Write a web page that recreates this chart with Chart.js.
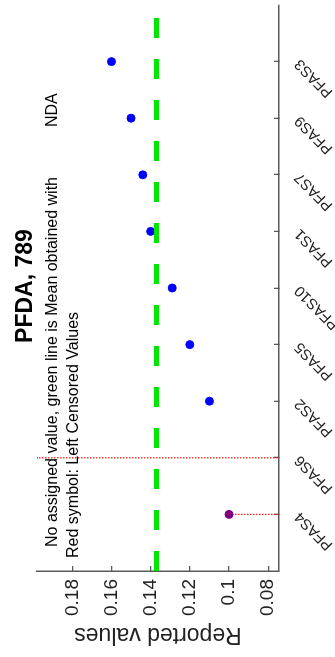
<!DOCTYPE html>
<html>
<head>
<meta charset="utf-8">
<script src="https://cdn.jsdelivr.net/npm/chart.js@4.4.1/dist/chart.umd.min.js"></script>
<style>
  html, body { margin: 0; padding: 0; background: #fff; overflow: hidden; }
  /* the chart is drawn upright, then turned a quarter turn to the left */
  #wrap {
    position: absolute; left: 0; top: 0; width: 657px; height: 335px;
    transform-origin: 0 0;
    transform: translate(0, 657px) rotate(-90deg);
    background: #fff;
  }
</style>
</head>
<body>
<div id="wrap"><canvas id="myChart" width="657" height="335"></canvas></div>
<script>
// data
const categories = ['PFAS4', 'PFAS6', 'PFAS2', 'PFAS5', 'PFAS10', 'PFAS1', 'PFAS7', 'PFAS9', 'PFAS3'];
const reported   = [null, null, 0.110, 0.120, 0.129, 0.140, 0.144, 0.150, 0.160];
const censored   = [0.100, 0.200, null, null, null, null, null, null, null];
const meanValue  = 0.137;
const yTicks      = [0.08, 0.10, 0.12, 0.14, 0.16, 0.18];
const yTickLabels = ['0.08', '0.1', '0.12', '0.14', '0.16', '0.18'];
const yMin = 0.0745, yMax = 0.198;
const xMin = 0, xMax = 10;
const titleText = 'PFDA, 789';
const noteLine1 = 'No assigned value, green line is Mean obtained with';
const noteTag   = 'NDA';
const noteLine2 = 'Red symbol: Left Censored Values';

const FONT = '"Liberation Sans", Arial, Helvetica, sans-serif';
const AXIS = '#5a5a5a';

// dotted drop lines for the left censored values
const dropLines = [];
censored.forEach((v, i) => {
  if (v === null) return;
  dropLines.push({
    type: 'line',
    data: [{ x: i + 1, y: v }, { x: i + 1, y: yMin }],
    borderColor: '#ff2020',
    borderWidth: 1.3,
    borderDash: [1.5, 1.5],
    pointRadius: 0,
    clip: 0
  });
});

// title over the plot box and the two note lines inside it
const notes = {
  id: 'notes',
  afterDatasetsDraw(chart) {
    const { ctx, chartArea } = chart;
    ctx.save();
    ctx.fillStyle = '#000';
    ctx.textBaseline = 'alphabetic';
    ctx.font = 'bold 23px ' + FONT;
    ctx.textAlign = 'center';
    ctx.fillText(titleText, (chartArea.left + chartArea.right) / 2 + 2, 32);
    ctx.font = '16px ' + FONT;
    ctx.textAlign = 'left';
    ctx.fillText(noteLine1, chartArea.left + 24, chartArea.top + 20);
    ctx.fillText(noteTag, chartArea.left + 444, chartArea.top + 20);
    ctx.fillText(noteLine2, chartArea.left + 13, chartArea.top + 41);
    ctx.restore();
  }
};

new Chart(document.getElementById('myChart').getContext('2d'), {
  type: 'scatter',
  data: {
    datasets: [
      {
        type: 'line',
        data: [{ x: xMin, y: meanValue }, { x: xMax, y: meanValue }],
        borderColor: '#00e600',
        borderWidth: 5,
        borderDash: [20, 21],
        pointRadius: 0
      },
      {
        data: reported.map((v, i) => ({ x: i + 1, y: v })).filter(p => p.y !== null),
        backgroundColor: '#0000ff',
        borderColor: '#0000ff',
        pointRadius: 4
      },
      {
        data: censored.map((v, i) => ({ x: i + 1, y: v })).filter(p => p.y !== null),
        backgroundColor: '#800080',
        borderColor: '#800080',
        pointRadius: 4,
        clip: 0
      },
      ...dropLines
    ]
  },
  options: {
    responsive: false,
    animation: false,
    layout: { padding: { top: 37, left: 0, right: 0, bottom: 0 } },
    plugins: {
      legend: { display: false },
      tooltip: { enabled: false },
      title: { display: false }
    },
    scales: {
      x: {
        type: 'linear',
        position: 'bottom',
        min: xMin,
        max: xMax,
        afterBuildTicks: s => { s.ticks = categories.map((c, i) => ({ value: i + 1 })); },
        afterFit: s => { s.height = 56; },
        ticks: {
          autoSkip: false,
          minRotation: 45,
          maxRotation: 45,
          padding: 17,
          color: '#222',
          font: { family: FONT, size: 15 },
          callback: v => categories[Math.round(v) - 1]
        },
        grid: { drawOnChartArea: false, drawTicks: true, tickLength: -5, color: AXIS, lineWidth: 1.3 },
        border: { display: true, color: AXIS, width: 1.5 }
      },
      y: {
        type: 'linear',
        position: 'left',
        min: yMin,
        max: yMax,
        afterBuildTicks: s => { s.ticks = yTicks.map(v => ({ value: v })); },
        afterFit: s => { s.width = 86; },
        ticks: {
          padding: 13,
          color: '#222',
          font: { family: FONT, size: 19 },
          callback: v => yTickLabels[yTicks.indexOf(v)]
        },
        title: {
          display: true,
          text: 'Reported values',
          color: '#222',
          font: { family: FONT, size: 23 },
          padding: { top: 9, bottom: 0 }
        },
        grid: { drawOnChartArea: false, drawTicks: true, tickLength: -5, color: AXIS, lineWidth: 1.3 },
        border: { display: true, color: AXIS, width: 1.5 }
      }
    }
  },
  plugins: [notes]
});
</script>
</body>
</html>
